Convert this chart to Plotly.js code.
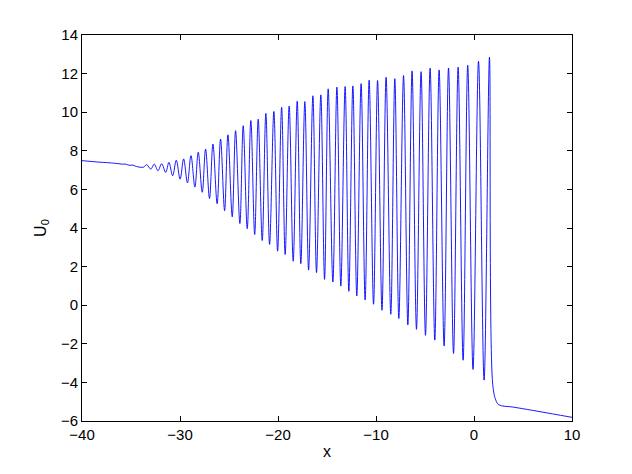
<!DOCTYPE html>
<html>
<head>
<meta charset="utf-8">
<script src="https://cdn.plot.ly/plotly-3.0.1.min.js"></script>
<style>html,body{margin:0;padding:0;background:#fff;}#plot{width:632px;height:474px;}</style>
</head>
<body>
<div id="plot"></div>
<script>
// Leading flat part and small wiggles (x, U0)
const leadX = [-40, -38.16, -37.0, -36.6, -36.25, -35.9, -35.54, -35.18, -34.82];
const leadY = [7.49, 7.41, 7.37, 7.35, 7.33, 7.31, 7.31, 7.25, 7.26];

// Troughs of the oscillating wave train
const troughX = [-34.46, -33.73, -32.98, -32.25, -31.46, -30.75, -29.99, -29.24, -28.48, -27.73,
  -26.99, -26.21, -25.45, -24.67, -23.89, -23.14, -22.38, -21.61, -20.86, -20.04,
  -19.27, -18.45, -17.67, -16.88, -16.07, -15.25, -14.40, -13.59, -12.77, -11.96,
  -11.11, -10.25, -9.39, -8.49, -7.67, -6.75, -5.87, -4.95, -4.00, -3.05,
  -2.09, -1.11, -0.10, 1.03];
const troughY = [7.19, 7.15, 7.05, 6.97, 6.88, 6.71, 6.53, 6.34, 6.12, 5.85,
  5.53, 5.26, 4.90, 4.58, 4.23, 3.96, 3.66, 3.35, 3.15, 2.80,
  2.63, 2.28, 2.15, 1.82, 1.69, 1.34, 1.20, 0.99, 0.72, 0.48,
  0.27, 0.05, -0.26, -0.47, -0.69, -1.02, -1.25, -1.56, -1.81, -2.11,
  -2.50, -2.85, -3.33, -3.88];

// Peaks of the oscillating wave train
const peakX = [-33.40, -32.63, -31.87, -31.13, -30.38, -29.63, -28.88, -28.14, -27.39, -26.64,
  -25.86, -25.11, -24.33, -23.55, -22.77, -22.02, -21.24, -20.42, -19.63, -18.86,
  -18.04, -17.26, -16.44, -15.63, -14.88, -13.99, -13.15, -12.36, -11.52, -10.70,
  -9.84, -8.97, -8.08, -7.19, -6.32, -5.40, -4.48, -3.56, -2.60, -1.62,
  -0.64, 0.46, 1.58];
const peakY = [7.28, 7.31, 7.33, 7.40, 7.51, 7.58, 7.75, 7.93, 8.09, 8.35,
  8.61, 8.83, 9.04, 9.30, 9.57, 9.64, 9.94, 10.04, 10.26, 10.32,
  10.57, 10.55, 10.85, 10.90, 11.21, 11.30, 11.33, 11.36, 11.48, 11.66,
  11.64, 11.81, 11.74, 11.90, 12.14, 12.10, 12.28, 12.19, 12.29, 12.33,
  12.43, 12.64, 12.85];

// Drop after the leading soliton and the trailing ramp
const tailX = [1.91, 2.22, 2.53, 4.0, 6.0, 8.0, 10.0];
const tailY = [-4.09, -4.91, -5.16, -5.28, -5.45, -5.63, -5.81];

// Assemble the curve in x order
const xs = leadX.slice(), ys = leadY.slice();
for (let i = 0; i < troughX.length; i++) {
  xs.push(troughX[i]); ys.push(troughY[i]);
  if (i < peakX.length) { xs.push(peakX[i]); ys.push(peakY[i]); }
}
const pts = xs.map((x, i) => [x, ys[i]]).sort((a, b) => a[0] - b[0]);
const X = pts.map(p => p[0]).concat(tailX);
const Y = pts.map(p => p[1]).concat(tailY);

const axisFont = {family: 'Liberation Sans, Arial, sans-serif', size: 15, color: '#000'};
const titleFont = {family: 'Liberation Sans, Arial, sans-serif', size: 16, color: '#000'};
const common = {
  showline: true, mirror: 'ticks', linecolor: '#000', linewidth: 1,
  ticks: 'inside', ticklen: 5, tickcolor: '#000', tickwidth: 1,
  showgrid: false, zeroline: false, tickfont: axisFont
};

Plotly.newPlot('plot', [{
  x: X, y: Y, type: 'scatter', mode: 'lines',
  line: {color: '#0000ff', width: 0.9, shape: 'spline', smoothing: 1},
  hoverinfo: 'skip'
}], {
  width: 632, height: 474,
  margin: {l: 82, r: 60, t: 35, b: 53},
  paper_bgcolor: '#fff', plot_bgcolor: '#fff',
  showlegend: false,
  font: axisFont,
  xaxis: Object.assign({}, common, {
    range: [-40, 10], tickvals: [-40, -30, -20, -10, 0, 10],
    title: {text: 'x', font: titleFont, standoff: 3}
  }),
  yaxis: Object.assign({}, common, {
    range: [-6, 14], tickvals: [-6, -4, -2, 0, 2, 4, 6, 8, 10, 12, 14],
    title: {text: 'U<sub>0</sub>', font: titleFont, standoff: 10}
  })
}, {staticPlot: true, displayModeBar: false});
</script>
</body>
</html>
